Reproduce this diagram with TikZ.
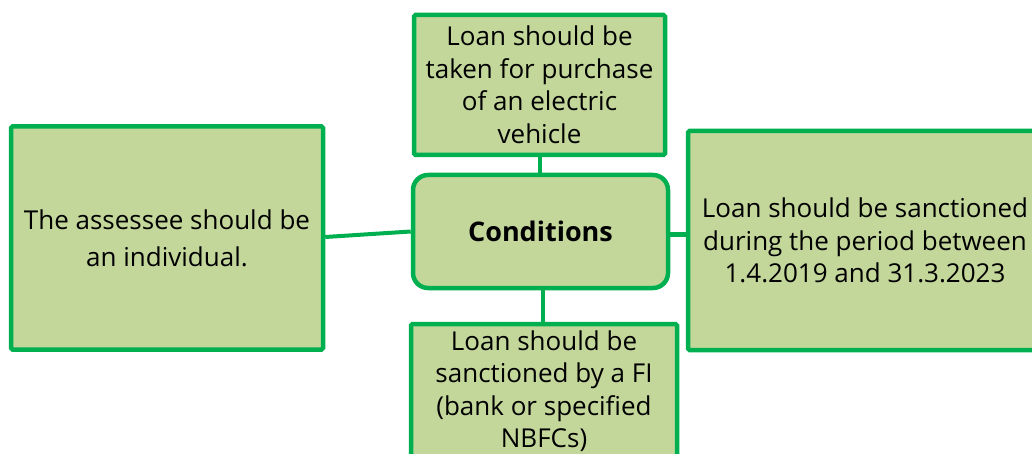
\documentclass[tikz,border=0pt]{standalone}
\usepackage{fontspec}
\setmainfont{Open Sans}
\begin{document}
\begin{tikzpicture}[x=1pt,y=-1pt,
  box/.style={draw=boxgreen,fill=boxfill,line width=4.5pt,rounded corners=1.5pt,align=center,inner sep=0pt,font=\fontsize{26}{32.5}\selectfont},
  conn/.style={draw=boxgreen,line width=4pt}]
\definecolor{boxgreen}{HTML}{00B050}
\definecolor{boxfill}{HTML}{C4D79B}
\useasboundingbox (0,0) rectangle (1032,454);
\clip (0,0) rectangle (1032,454);
\node[box,minimum width=251pt,minimum height=140pt] (top) at (539.5,85) {Loan should be\\taken for purchase\\of an electric\\vehicle};
\node[box,minimum width=255pt,minimum height=113pt,rounded corners=15pt,font=\fontsize{27}{32}\selectfont\bfseries] (cond) at (540.5,231.5) {Conditions};
\node[box,minimum width=266pt,minimum height=134pt] (bot) at (544,391) {Loan should be\\sanctioned by a FI\\(bank or specified\\NBFCs)};
\node[box,minimum width=354pt,minimum height=219pt] (right) at (865,240.5) {Loan should be sanctioned\\during the period between\\1.4.2019 and 31.3.2023};
\node[box,minimum width=312pt,minimum height=223pt,font=\fontsize{26}{37}\selectfont] (left) at (167,238) {The assessee should be\\an individual.};
\draw[conn] (top.south -| 540,0) -- (cond.north -| 540,0);
\draw[conn] (cond.south -| 543,0) -- (bot.north -| 543,0);
\draw[conn] (left.east) ++(0,-1) -- (cond.west);
\draw[conn] (cond.east) ++(0,3) -- (right.west |- 0,234.5);
\end{tikzpicture}
\end{document}
